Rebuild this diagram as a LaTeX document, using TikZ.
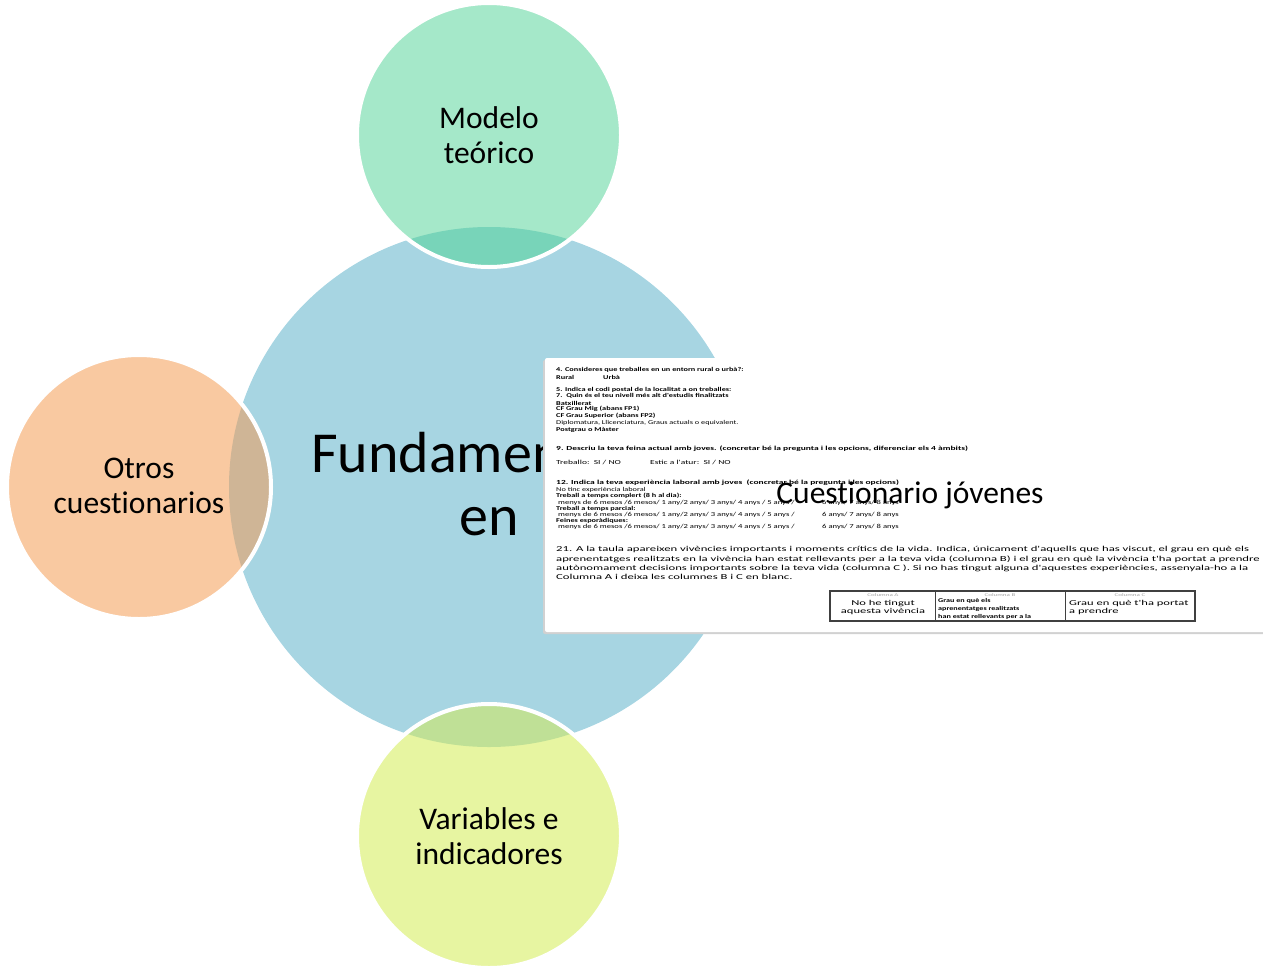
\documentclass[tikz,border=0pt]{standalone}
\usepackage{fontspec}
\setmainfont[RawFeature=-liga]{Carlito}
\newfontfamily\qf[FakeStretch=1.4]{Carlito}
\newfontfamily\qfw[FakeStretch=1.53]{Carlito}
\newfontfamily\qp[FakeStretch=1.67]{Carlito}
\definecolor{cblue}{RGB}{167,213,226}
\definecolor{cgreen}{RGB}{165,232,201}
\definecolor{cgreenov}{RGB}{120,212,185}
\definecolor{corange}{RGB}{249,201,161}
\definecolor{corangeov}{RGB}{207,181,150}
\definecolor{cyellow}{RGB}{231,245,161}
\definecolor{cyellowov}{RGB}{191,224,150}
\tikzset{
  lbl/.style={font=\fontsize{31.5}{35}\selectfont, align=center, text=black, inner sep=0},
  bigl/.style={font=\fontsize{58}{63}\selectfont, text=black, inner sep=0},
  qb/.style={anchor=west, inner sep=0, font=\qf\bfseries\fontsize{5.9}{6}\selectfont},
  qr/.style={anchor=west, inner sep=0, font=\qf\fontsize{5.9}{6}\selectfont},
  qbw/.style={anchor=west, inner sep=0, font=\qfw\bfseries\fontsize{6.2}{6.5}\selectfont},
  qrw/.style={anchor=west, inner sep=0, font=\qfw\fontsize{6.2}{6.5}\selectfont},
  qm/.style={anchor=west, inner sep=0, font=\qf\fontsize{6.15}{6.5}\selectfont},
  qpar/.style={anchor=west, inner sep=0, font=\qp\fontsize{7.6}{9}\selectfont},
  tcell/.style={inner sep=0, align=center, font=\qp\fontsize{7.5}{8}\selectfont},
  thead/.style={inner sep=0, font=\qp\fontsize{4.2}{5}\selectfont, text=black!35},
  ring/.style={draw=white, line width=4pt},
}
\begin{document}
\begin{tikzpicture}[x=1pt,y=-1pt]
\useasboundingbox (0,0) rectangle (1263,969);
% big circle
\fill[cblue] (489,487) circle[radius=260pt];
% top circle
\fill[cgreen] (489,135) circle[radius=132pt];
\begin{scope}
  \clip (489,487) circle[radius=260pt];
  \fill[cgreenov] (489,135) circle[radius=132pt];
\end{scope}
\draw[ring] (489,135) circle[radius=132pt];
% left circle
\fill[corange] (139,487) circle[radius=132pt];
\begin{scope}
  \clip (489,487) circle[radius=260pt];
  \fill[corangeov] (139,487) circle[radius=132pt];
\end{scope}
\draw[ring] (139,487) circle[radius=132pt];
% bottom circle
\fill[cyellow] (489,836) circle[radius=132pt];
\begin{scope}
  \clip (489,487) circle[radius=260pt];
  \fill[cyellowov] (489,836) circle[radius=132pt];
\end{scope}
\draw[ring] (489,836) circle[radius=132pt];
% labels
\node[lbl] (modelo) at (489,135) {Modelo\\teórico};
\node[lbl] (otros) at (139,486) {Otros\\cuestionarios};
\node[lbl] (vars) at (489,836) {Variables e\\indicadores};
\node[bigl, anchor=base west] (fund) at (311,472) {Fundamen};
\node[bigl, anchor=base] (en) at (489,535) {en};
% questionnaire picture
\fill[black!18, rounded corners=2pt] (543,360) rectangle (1275,634);
\fill[white, rounded corners=2pt] (545,358) rectangle (1275,632);
\node[qb] (q1) at (556,370) {4. Consideres que treballes en un entorn rural o urbà?:};
\node[qb] (q2) at (556,377) {Rural};
\node[qb] (q3) at (603,377) {Urbà};
\node[qb] (q4) at (556,390) {5. Indica el codi postal de la localitat a on treballes:};
\node[qb] (q5) at (556,396) {7.\ \ Quin és el teu nivell més alt d'estudis finalitzats};
\node[qb] (q6) at (556,403) {Batxillerat};
\node[qb] (q7) at (556,409) {CF Grau Mig (abans FP1)};
\node[qb] (q8) at (556,416) {CF Grau Superior (abans FP2)};
\node[qr] (q9) at (556,423) {Diplomatura, Llicenciatura, Graus actuals o equivalent.};
\node[qb] (q10) at (556,430) {Postgrau o Màster};
\node[qbw] (q11) at (556,449) {9. Descriu la teva feina actual amb joves. (concretar bé la pregunta i les opcions, diferenciar els 4 àmbits)};
\node[qrw] (q12) at (556,462) {Treballo:\ \ SI / NO};
\node[qrw] (q13) at (650,462) {Estic a l'atur:\ \ SI / NO};
\node[qbw] (q14) at (556,483) {12. Indica la teva experiència laboral amb joves\ \ (concretar bé la pregunta i les opcions)};
\node[qr] (q15) at (556,490) {No tinc experiència laboral};
\node[qb] (q16) at (556,496) {Treball a temps complert (8 h al dia):};
\node[qm] (q17) at (558,503) {menys de 6 mesos /6 mesos/ 1 any/2 anys/ 3 anys/ 4 anys / 5 anys /};
\node[qm] (q18) at (822,503) {6 anys/ 7 anys/ 8 anys};
\node[qb] (q19) at (556,509) {Treball a temps parcial:};
\node[qm] (q20) at (558,515) {menys de 6 mesos /6 mesos/ 1 any/2 anys/ 3 anys/ 4 anys / 5 anys /};
\node[qm] (q21) at (822,515) {6 anys/ 7 anys/ 8 anys};
\node[qb] (q22) at (556,521) {Feines esporàdiques:};
\node[qm] (q23) at (558,527) {menys de 6 mesos /6 mesos/ 1 any/2 anys/ 3 anys/ 4 anys / 5 anys /};
\node[qm] (q24) at (822,527) {6 anys/ 7 anys/ 8 anys};
\node[qpar] (p1) at (556,550) {21. A la taula apareixen vivències importants i moments crítics de la vida. Indica, únicament d'aquells que has viscut, el grau en què els};
\node[qpar] (p2) at (556,559) {aprenentatges realitzats en la vivència han estat rellevants per a la teva vida (columna B) i el grau en què la vivència t'ha portat a prendre};
\node[qpar] (p3) at (556,568) {autònomament decisions importants sobre la teva vida (columna C ). Si no has tingut alguna d'aquestes experiències, assenyala-ho a la};
\node[qpar] (p4) at (556,577) {Columna A i deixa les columnes B i C en blanc.};
% table
\draw[black!75, line width=1.2pt] (830,591) rectangle (1195,621);
\draw[black!75, line width=1pt] (935,591) -- (935,621);
\draw[black!75, line width=1pt] (1065,591) -- (1065,621);
\node[thead] (ha) at (883,595) {Columna A};
\node[thead] (hb) at (1000,595) {Columna B};
\node[thead] (hc) at (1130,595) {Columna C};
\node[tcell] (ca) at (883,607) {No he tingut\\aquesta vivència};
\node[tcell, align=left, anchor=north west, font=\qf\bfseries\fontsize{5.8}{8}\selectfont] (cb) at (938,598) {Grau en què els\\aprenentatges realitzats\\han estat rellevants per a la};
\node[tcell, align=left, anchor=west] (cc) at (1069,607) {Grau en què t'ha portat\\a prendre};
% right label
\node[lbl] (cuest) at (910,495) {Cuestionario jóvenes};
\end{tikzpicture}
\end{document}
